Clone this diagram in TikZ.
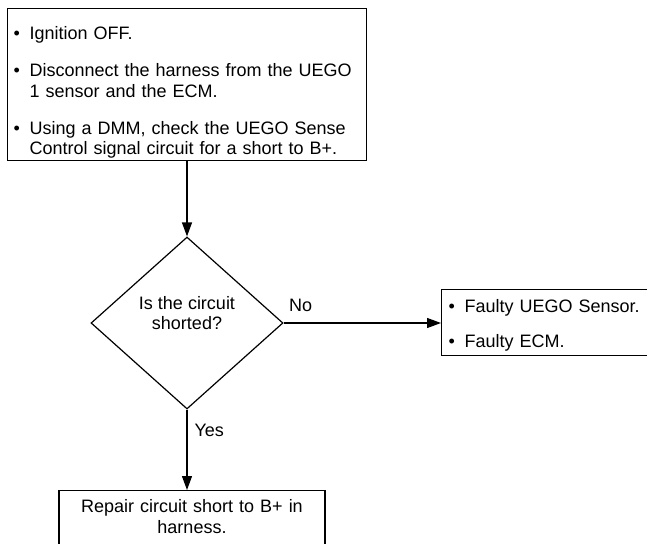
\documentclass[tikz,border=0pt]{standalone}
\usepackage{fontspec}
\setmainfont{Liberation Sans}
\usetikzlibrary{shapes.geometric,arrows.meta}
\newcommand{\StepFont}{\fontsize{18}{20.5}\selectfont}
\newcommand{\BulItem}[1]{\hangindent=16pt\hangafter=1\noindent\makebox[16pt][l]{\textbullet}#1\par}
\newcommand{\ItemGap}[1][16.5pt]{\vspace{#1}}

\begin{document}
\begin{tikzpicture}[x=1pt,y=-1pt,
    stepbox/.style={draw=black,fill=white,line width=1.2pt,inner xsep=7pt,align=left,font=\StepFont},
    querybox/.style={diamond,draw=black,line width=1.2pt,inner sep=0pt,minimum width=192pt,
      minimum height=172pt,align=center,font=\StepFont,text depth=20pt},
    answer/.style={font=\StepFont,inner sep=0pt,anchor=base west},
    flowarrow/.style={-{Triangle[length=14pt,width=10pt]},line width=1.2pt}]
  \useasboundingbox (0,0) rectangle (647,543);
  \node[stepbox,inner xsep=6pt,inner ysep=2pt,text width=347pt,anchor=north west]
    (setup) at (7,8) {\BulItem{\rule{0pt}{29pt}Ignition OFF.}\ItemGap
      \BulItem{Disconnect the harness from the UEGO\newline 1 sensor and the ECM.}\ItemGap
      \BulItem{Using a DMM, check the UEGO Sense\newline Control signal circuit for a short to B+.}};
  \node[querybox] (query) at (187,323) {Is the circuit\\shorted?};
  \node[stepbox,inner ysep=4pt,text width=220pt,anchor=north west]
    (faulty) at (441,289) {\BulItem{\rule{0pt}{19pt}Faulty UEGO Sensor.}\ItemGap[14.5pt]
      \BulItem{Faulty ECM.}};
  \node[stepbox,align=center,inner ysep=0pt,text width=252pt,anchor=north]
    (repair) at (192,490) {\rule{0pt}{22pt}Repair circuit short to B+ in\\
      harness.\rule[-20pt]{0pt}{20pt}};
  \draw[flowarrow] (setup.south -| query.north) -- (query.north);
  \draw[flowarrow] (query.east) -- node[answer,pos=0,xshift=5pt,yshift=12pt] (nolabel) {No}
    (query.east -| faulty.west);
  \draw[flowarrow] (query.south) -- node[answer,pos=0,xshift=7pt,yshift=-27pt] (yeslabel) {Yes}
    (query.south |- repair.north);
\end{tikzpicture}
\end{document}
